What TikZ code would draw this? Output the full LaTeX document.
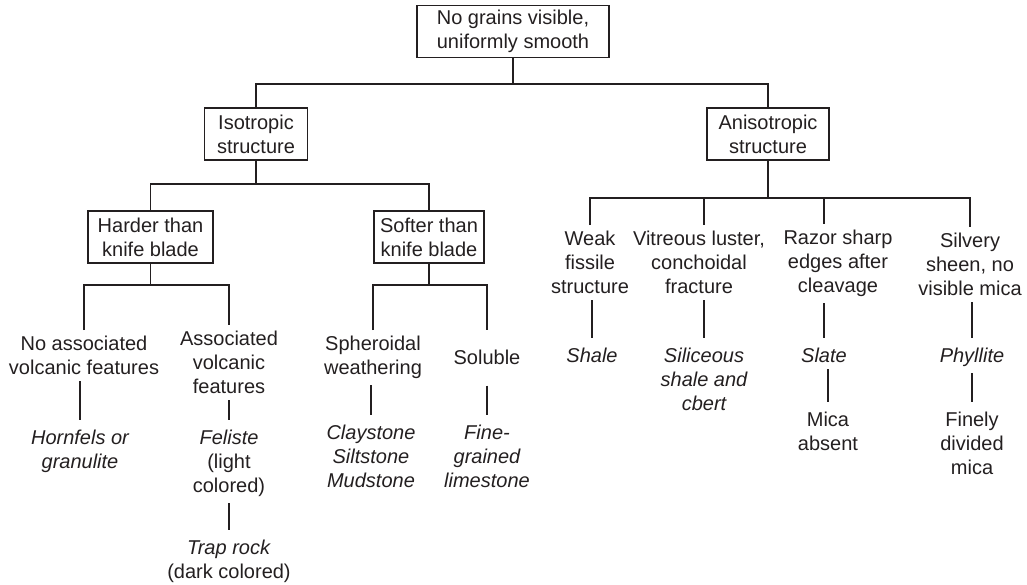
\documentclass[tikz,border=0pt]{standalone}
\usepackage{fontspec}
\setmainfont{Liberation Sans}
\definecolor{ink}{RGB}{35,31,32}
\tikzset{
  box/.style={draw=ink,text=ink,line width=0.6pt,align=center,font=\fontsize{10}{12}\selectfont,minimum height=26pt,inner xsep=3pt,inner ysep=2pt},
  lbl/.style={text=ink,align=center,font=\fontsize{10}{12}\selectfont,inner xsep=1pt,inner ysep=3pt,anchor=north},
  rock/.style={lbl,font=\fontsize{10}{12}\selectfont\itshape},
  link/.style={draw=ink,line width=0.6pt}
}
\begin{document}
\begin{tikzpicture}[x=0.5pt,y=-0.5pt]
\useasboundingbox (0,0) rectangle (1027,584);
% boxes
\node[box,minimum width=96pt] (root) at (513,31.5) {No grains visible,\\uniformly smooth};
\node[box,minimum width=51.5pt] (iso) at (256,134) {Isotropic\\structure};
\node[box,minimum width=61pt] (aniso) at (768,134) {Anisotropic\\structure};
\node[box,minimum width=62.5pt] (hard) at (150.5,237) {Harder than\\knife blade};
\node[box,minimum width=54pt] (soft) at (429,237) {Softer than\\knife blade};
% isotropic side
\node[lbl] (na) at (84,330) {No associated\\volcanic features};
\node[rock] (hf) at (80,424) {Hornfels or\\granulite};
\node[lbl] (av) at (229,325) {Associated\\volcanic\\features};
\node[lbl] (fe) at (229,424) {\textit{Feliste}\\(light\\colored)};
\node[lbl] (tr) at (229,534) {\textit{Trap rock}\\(dark colored)};
\node[lbl] (sw) at (373,330) {Spheroidal\\weathering};
\node[rock] (cs) at (371,419) {Claystone\\Siltstone\\Mudstone};
\node[lbl,minimum height=27.4pt] (so) at (487,330) {Soluble};
\node[rock] (fg) at (487,419) {Fine-\\grained\\limestone};
% anisotropic side
\node[lbl] (wf) at (590,225) {Weak\\fissile\\structure};
\node[rock] (sh) at (592,342) {Shale};
\node[lbl] (vl) at (699,225) {Vitreous luster,\\conchoidal\\fracture};
\node[rock] (ss) at (704,342) {Siliceous\\shale and\\cbert};
\node[lbl] (rs) at (838,224) {Razor sharp\\edges after\\cleavage};
\node[rock] (sl) at (824,342) {Slate};
\node[lbl] (ma) at (828,406) {Mica\\absent};
\node[lbl] (sv) at (970,227) {Silvery\\sheen, no\\visible mica};
\node[rock] (ph) at (972,342) {Phyllite};
\node[lbl] (fd) at (972,406) {Finely\\divided\\mica};
% junctions
\coordinate (j1) at (513,84);
\coordinate (j2) at (256,184);
\coordinate (j3) at (150.5,285);
\coordinate (j4) at (429,285);
\coordinate (j5) at (768,198);
\draw[link] (root.south) -- (j1);
\draw[link] (iso.north) |- (j1) -| (aniso.north);
\draw[link] (iso.south) -- (j2);
\draw[link] (hard.north) |- (j2) -| (soft.north);
\draw[link] (hard.south) -- (j3);
\draw[link] (na.north) |- (j3) -| (av.north);
\draw[link] (soft.south) -- (j4);
\draw[link] (sw.north) |- (j4) -| (so.north);
\draw[link] (aniso.south) -- (j5);
\draw[link] (wf.north) |- (j5) -| (sv.north);
\draw[link] (ss.north |- j5) -- (ss.north |- vl.north);
\draw[link] (sl.north |- j5) -- (sl.north |- rs.north);
% columns
\foreach \a/\b in {na/hf,av/fe,fe/tr,sw/cs,so/fg,wf/sh,vl/ss,rs/sl,sl/ma,sv/ph,ph/fd}
  \draw[link,shorten >=2pt] (\b.north |- \a.south) -- (\b.north);
\end{tikzpicture}
\end{document}
